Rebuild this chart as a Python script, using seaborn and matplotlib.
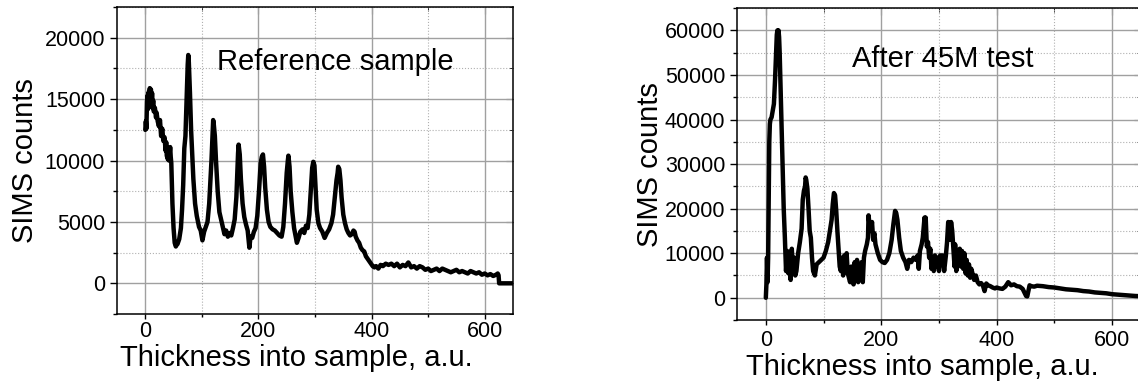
import matplotlib
matplotlib.use("Agg")
import matplotlib.pyplot as plt
import seaborn as sns
import numpy as np
from matplotlib.ticker import MultipleLocator

# Perfil SIMS de la muestra de referencia (x, cuentas)
ref_profile = [
    (0, 12500), (1, 13200), (2, 12600), (3, 14800), (4, 15300), (5, 14200), (6, 15600),
    (7, 15100), (8, 15900), (9, 15400), (10, 15800), (11, 14600), (12, 15500), (13, 14300),
    (14, 14900), (15, 14000), (17, 14300), (19, 13500), (20, 13900), (22, 13200), (24, 12800),
    (26, 13300), (28, 12000), (30, 12600), (32, 11600), (34, 11900), (36, 10800), (37, 11500),
    (38, 10400), (40, 10100), (41, 10600), (42, 10000), (44, 11100), (45, 10300), (46, 9800),
    (47, 8200), (48, 6500), (50, 4500), (52, 3300), (54, 3000), (55, 3100), (57, 3200),
    (60, 3600), (63, 4500), (65, 6000), (67, 8000), (69, 11000), (71, 12000), (73, 15000),
    (75, 17800), (76, 18600), (77, 18000), (79, 15500), (81, 12500), (83, 10500), (85, 8500),
    (88, 6500), (91, 5500), (95, 4600), (98, 4300), (101, 3500), (104, 4200), (107, 4600),
    (110, 5000), (113, 6500), (115, 8200), (117, 10000), (119, 12300), (120, 13300),
    (121, 13000), (123, 12000), (125, 10000), (128, 7500), (131, 5800), (134, 5200),
    (137, 4600), (140, 4000), (143, 4300), (146, 3800), (149, 4100), (152, 3900), (155, 4500),
    (158, 5200), (161, 7000), (163, 9500), (164, 10600), (165, 11300), (167, 10500),
    (169, 8500), (172, 6500), (175, 5400), (178, 4800), (181, 4300), (184, 2900), (186, 3800),
    (189, 3700), (192, 4200), (195, 4500), (198, 5500), (201, 7500), (204, 9800),
    (206, 10300), (208, 10500), (210, 9500), (212, 7800), (215, 6000), (218, 5000),
    (221, 4600), (225, 4400), (229, 4300), (233, 4100), (237, 3900), (241, 3800), (244, 4600),
    (247, 6500), (250, 9000), (252, 10000), (253, 10400), (255, 9500), (257, 7500),
    (260, 5800), (263, 4500), (266, 3800), (268, 3300), (271, 3700), (274, 4200), (278, 4400),
    (281, 4100), (284, 4700), (287, 4500), (290, 5600), (293, 7800), (295, 9400), (297, 9900),
    (299, 9600), (301, 7800), (303, 6000), (306, 4900), (309, 4500), (313, 4200), (317, 3700),
    (321, 4100), (325, 4400), (329, 4900), (332, 5600), (335, 7000), (338, 8400), (340, 9000),
    (341, 9500), (343, 9300), (345, 8400), (347, 7000), (350, 5600), (353, 4900), (356, 4400),
    (359, 4100), (362, 3900), (365, 4000), (368, 4300), (370, 4200), (372, 3800), (375, 3500),
    (378, 3300), (381, 2900), (384, 2700), (387, 2600), (390, 2200), (393, 2000), (396, 1800),
    (399, 1600), (402, 1400), (405, 1300), (408, 1400), (412, 1200), (416, 1500), (420, 1400),
    (425, 1600), (430, 1500), (435, 1600), (440, 1400), (445, 1600), (450, 1300), (455, 1500),
    (460, 1400), (465, 1700), (470, 1300), (475, 1400), (480, 1200), (485, 1400), (490, 1300),
    (495, 1100), (500, 1200), (505, 1000), (510, 1100), (515, 1200), (520, 1000), (525, 1200),
    (530, 1100), (535, 1000), (540, 900), (545, 1000), (550, 1100), (555, 900), (560, 1000),
    (565, 900), (570, 800), (575, 1000), (580, 900), (585, 800), (590, 900), (595, 700),
    (600, 800), (605, 650), (610, 750), (615, 600), (620, 700), (623, 800), (624.5, 650),
    (625.5, 0), (635, 0), (650, 0),
]

# Perfil SIMS despues del ensayo de 45M
test_profile = [
    (0, 0), (1, 3000), (2, 9000), (3, 3500), (4, 9000), (5, 22000), (6, 35000), (7, 39000),
    (8, 40000), (10, 40500), (12, 42000), (14, 43500), (16, 49000), (18, 56000), (19, 59000),
    (20, 60000), (21, 59000), (22, 60000), (23, 58500), (24, 55000), (25, 50000), (27, 40000),
    (29, 30000), (31, 20000), (33, 13500), (35, 6000), (37, 10500), (39, 5500), (41, 9500),
    (43, 4000), (45, 11000), (47, 6000), (49, 9000), (51, 5000), (53, 6000), (56, 10000),
    (59, 12500), (62, 15500), (64, 22000), (66, 24000), (68, 25000), (69, 27000), (70, 26500),
    (72, 24500), (74, 20000), (76, 15000), (78, 13500), (80, 9000), (82, 6000), (85, 5000),
    (88, 7500), (92, 8000), (96, 8500), (100, 9000), (104, 10500), (108, 12500), (111, 15000),
    (114, 17500), (116, 21000), (118, 23500), (120, 23000), (122, 19500), (124, 15000),
    (126, 11000), (128, 7000), (130, 6000), (132, 9000), (134, 5000), (136, 9500), (138, 6500),
    (140, 10000), (142, 5500), (144, 4500), (146, 3500), (148, 7000), (150, 5000), (152, 3000),
    (154, 8000), (156, 4000), (158, 8500), (160, 3500), (162, 7500), (164, 4000), (166, 8000),
    (168, 3500), (170, 9000), (172, 10500), (175, 12000), (177, 13500), (178, 18500),
    (180, 16000), (182, 15000), (184, 17000), (186, 13000), (188, 14500), (190, 12000),
    (194, 10000), (198, 8500), (202, 8000), (206, 7800), (210, 8500), (214, 10000),
    (218, 13000), (221, 16500), (224, 19500), (226, 19000), (228, 17500), (231, 13500),
    (234, 10500), (238, 9000), (242, 8000), (245, 6500), (248, 8500), (252, 8000), (256, 9000),
    (260, 8500), (263, 9500), (265, 6500), (267, 10500), (270, 12000), (272, 13500),
    (274, 16500), (275, 18000), (276, 14000), (277, 18000), (279, 11500), (281, 12500),
    (283, 9000), (285, 11000), (287, 6500), (289, 9000), (291, 6000), (293, 9500), (295, 7000),
    (297, 9000), (300, 6000), (302, 9500), (304, 8500), (306, 9500), (309, 6000), (312, 9500),
    (314, 12500), (316, 17000), (319, 13000), (321, 17000), (323, 15000), (325, 11000),
    (327, 7000), (328, 12000), (330, 6000), (332, 10000), (334, 8000), (336, 11000),
    (338, 7000), (340, 10500), (342, 6500), (344, 10000), (346, 5500), (348, 8500), (350, 5000),
    (352, 7500), (354, 4500), (356, 6500), (358, 5500), (361, 4000), (364, 5000), (367, 3500),
    (370, 3000), (373, 3300), (376, 2800), (379, 1500), (382, 3200), (385, 2800), (389, 2600),
    (393, 2300), (397, 2100), (400, 2300), (405, 2100), (410, 2000), (415, 2500), (420, 3500),
    (425, 2800), (430, 3000), (435, 2600), (440, 2500), (445, 2000), (449, 900), (451, 400),
    (453, 300), (455, 1500), (457, 2800), (460, 2600), (465, 2500), (470, 2700), (480, 2600),
    (490, 2400), (500, 2300), (510, 2100), (520, 1900), (530, 1800), (540, 1700), (550, 1500),
    (560, 1400), (570, 1200), (580, 1100), (590, 1000), (600, 800), (610, 700), (620, 600),
    (630, 500), (640, 400), (650, 350),
]

panel_titles = ["Reference sample", "After 45M test"]

sns.set_style("whitegrid")
plt.rcParams['font.family'] = ['Liberation Sans', 'DejaVu Sans']
plt.rcParams['text.color'] = 'black'
plt.rcParams['axes.labelcolor'] = 'black'
plt.rcParams['xtick.color'] = 'black'
plt.rcParams['ytick.color'] = 'black'

fig = plt.figure(figsize=(11.38, 3.87), dpi=100)
ax1 = fig.add_axes([0.1028, 0.1886, 0.348, 0.793])
ax2 = fig.add_axes([0.6476, 0.173, 0.355, 0.806])

series = [ref_profile, test_profile]
limits = [(-2500, 22500, 5000, 2500), (-5000, 65000, 10000, 5000)]
text_pos = [(127, 17400), (150, 51900)]
xpad = [1.5, 3.6]
xlab_coords = [(0.452, -0.0964), (0.458, -0.1045)]
ylab_coords = [(-0.197, 0.5), (-0.181, 0.5)]

for i, ax in enumerate([ax1, ax2]):
    xs = [p[0] for p in series[i]]
    ys = [p[1] for p in series[i]]
    sns.lineplot(x=xs, y=ys, ax=ax, color='black', linewidth=3.2,
                 estimator=None, sort=False)
    ax.set_xlim(-50, 650)
    ax.set_ylim(limits[i][0], limits[i][1])
    ax.xaxis.set_major_locator(MultipleLocator(200))
    ax.xaxis.set_minor_locator(MultipleLocator(100))
    ax.yaxis.set_major_locator(MultipleLocator(limits[i][2]))
    ax.yaxis.set_minor_locator(MultipleLocator(limits[i][3]))
    ax.grid(which='major', color='#a0a0a0', linestyle='-', linewidth=1.0)
    ax.grid(which='minor', color='#b0b0b0', linestyle=':', linewidth=0.8)
    for sp in ax.spines.values():
        sp.set_color('black')
        sp.set_linewidth(1.1)
    ax.tick_params(which='major', direction='out', width=1.0,
                   labelsize=15.5, color='black', left=True, bottom=True)
    ax.tick_params(which='minor', direction='out', width=1.0,
                   color='black', left=True, bottom=True)
    ax.tick_params(axis='x', which='major', length=3.6, pad=xpad[i])
    ax.tick_params(axis='x', which='minor', length=2.5)
    ax.tick_params(axis='y', which='major', length=5, pad=3.5)
    ax.tick_params(axis='y', which='minor', length=3)
    # marcas interiores en los lados superior y derecho
    top = ax.secondary_xaxis('top')
    top.set_xticks(np.arange(0, 700, 200))
    top.xaxis.set_minor_locator(MultipleLocator(100))
    top.tick_params(which='both', direction='in', labeltop=False, color='black')
    top.tick_params(which='major', length=5)
    top.tick_params(which='minor', length=3)
    top.spines['top'].set_visible(False)
    right = ax.secondary_yaxis('right')
    right.yaxis.set_major_locator(MultipleLocator(limits[i][2]))
    right.yaxis.set_minor_locator(MultipleLocator(limits[i][3]))
    right.tick_params(which='both', direction='in', labelright=False, color='black')
    right.tick_params(which='major', length=5)
    right.tick_params(which='minor', length=3)
    right.spines['right'].set_visible(False)

    ax.set_xlabel('Thickness into sample, a.u.', fontsize=21)
    ax.set_ylabel('SIMS counts', fontsize=21)
    ax.xaxis.set_label_coords(*xlab_coords[i])
    ax.yaxis.set_label_coords(*ylab_coords[i])
    ax.text(text_pos[i][0], text_pos[i][1], panel_titles[i], fontsize=21,
            ha='left', va='baseline')

fig.savefig('out.png', dpi=100)
